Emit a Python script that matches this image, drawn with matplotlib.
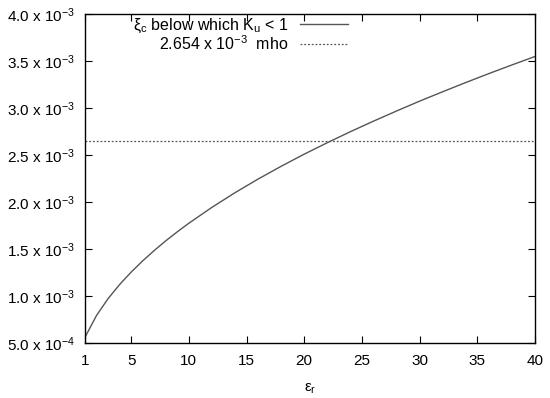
import matplotlib
matplotlib.use('Agg')
import matplotlib.pyplot as plt
from matplotlib.ticker import FixedLocator, FuncFormatter

plt.rcParams['font.family'] = ['Liberation Sans', 'DejaVu Sans']
plt.rcParams['mathtext.default'] = 'regular'

# values
eps_r = [1, 2, 3, 4, 5, 6, 7, 8, 9, 10, 12, 14, 16, 18, 20, 22, 24, 26, 28, 30,
         32, 34, 36, 38, 40]
xi_c = [0.561e-3, 0.793e-3, 0.972e-3, 1.122e-3, 1.254e-3, 1.374e-3, 1.484e-3,
        1.587e-3, 1.683e-3, 1.774e-3, 1.943e-3, 2.099e-3, 2.244e-3, 2.380e-3,
        2.509e-3, 2.631e-3, 2.748e-3, 2.860e-3, 2.968e-3, 3.073e-3, 3.173e-3,
        3.271e-3, 3.366e-3, 3.458e-3, 3.548e-3]
threshold = 2.654e-3

x_ticks = [1, 5, 10, 15, 20, 25, 30, 35, 40]
y_ticks = [5.0e-4, 1.0e-3, 1.5e-3, 2.0e-3, 2.5e-3, 3.0e-3, 3.5e-3, 4.0e-3]


def sci_label(v, pos):
    exp = -4 if v < 1e-3 - 1e-9 else -3
    return '%.1f x 10$^{%d}$' % (v / 10 ** exp, exp)


fig = plt.figure(figsize=(5.5, 3.98), dpi=100)
ax = fig.add_axes([85 / 550, 1 - 343 / 398, 450 / 550, 329 / 398])

ax.plot(eps_r, xi_c, color='#555555', lw=1.0,
        label=r'$\xi_c$ below which $K_u$ < 1')
ax.axhline(threshold, color='#555555', lw=0.9, ls=(0, (1.5, 1.5)),
           label='2.654 x 10$^{-3}$  mho')

ax.set_xlim(1, 40)
ax.set_ylim(5e-4, 4e-3)
ax.xaxis.set_major_locator(FixedLocator(x_ticks))
ax.yaxis.set_major_locator(FixedLocator(y_ticks))
ax.yaxis.set_major_formatter(FuncFormatter(sci_label))
ax.tick_params(direction='in', top=True, right=True, length=5, width=0.8,
               labelsize=11, colors='black')
ax.tick_params(axis='x', pad=8)
ax.tick_params(axis='y', pad=7)
for sp in ax.spines.values():
    sp.set_linewidth(1.0)

ax.set_xlabel(r'$\varepsilon_r$', fontsize=11, labelpad=10)

ax.legend(loc='upper right', bbox_to_anchor=(0.584, 0.992), frameon=False,
          markerfirst=False, fontsize=11.5, handlelength=3.0,
          labelspacing=-0.05, handletextpad=0.7, borderpad=0,
          borderaxespad=0)

fig.savefig('out.png', dpi=100)
